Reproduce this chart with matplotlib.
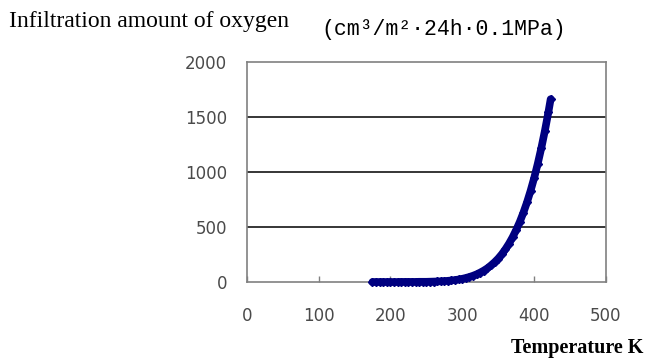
import matplotlib
matplotlib.use('Agg')
from matplotlib import pyplot as plt

# temperature (K) and oxygen infiltration amount
temp = [175, 180, 185, 190, 195, 200, 205, 210, 215, 220, 225, 230, 235, 240, 245,
        250, 255, 260, 265, 270, 275, 280, 285, 290, 295, 300, 305, 310, 315, 320,
        325, 330, 335, 340, 345, 350, 355, 360, 365, 370, 375, 380, 385, 390, 395,
        400, 405, 410, 415, 420, 423]
amount = [0, 0, 0, 0, 0, 0, 0, 0, 1, 1, 1, 1, 1, 2, 2,
          2, 3, 4, 5, 6, 8, 11, 14, 18, 23, 29, 37, 46, 57, 70,
          86, 104, 125, 151, 180, 213, 252, 297, 348, 406, 472, 545, 629, 722, 827,
          943, 1073, 1216, 1374, 1547, 1660]

x_ticks = [0, 100, 200, 300, 400, 500]
y_ticks = [0, 500, 1000, 1500, 2000]

fig = plt.figure(figsize=(6.52, 3.59), dpi=100)
ax = fig.add_axes([0.3784, 0.2145, 0.5510, 0.6136])

for y in y_ticks[1:-1]:
    ax.axhline(y, color='black', lw=1.1, zorder=1)

ax.plot(temp, amount, color='#000080', lw=5.5, marker='D', ms=4,
        solid_capstyle='round', solid_joinstyle='round', clip_on=False, zorder=3)

ax.set_xlim(0, 500)
ax.set_ylim(0, 2000)
ax.set_xticks(x_ticks)
ax.set_yticks(y_ticks)
ax.tick_params(axis='x', direction='in', length=4, width=1, color='#808080',
               pad=18, labelsize=12, labelcolor='#4a4a4a')
ax.tick_params(axis='y', length=0, pad=14, labelsize=12, labelcolor='#4a4a4a')
for s in ax.spines.values():
    s.set_color('#808080')
    s.set_linewidth(1.2)

fig.text(9 / 652, 1 - 27 / 359, 'Infiltration amount of oxygen',
         family='Liberation Serif', fontsize=17, va='baseline')
fig.text(321 / 652, 1 - 35 / 359, '(cm³/m²·24h·0.1MPa)',
         family='Liberation Mono', fontsize=15.5, va='baseline')
fig.text(643 / 652, 1 - 353 / 359, 'Temperature K',
         family='Liberation Serif', fontweight='bold', fontsize=14.5,
         ha='right', va='baseline')

fig.savefig('out.png', dpi=100)
